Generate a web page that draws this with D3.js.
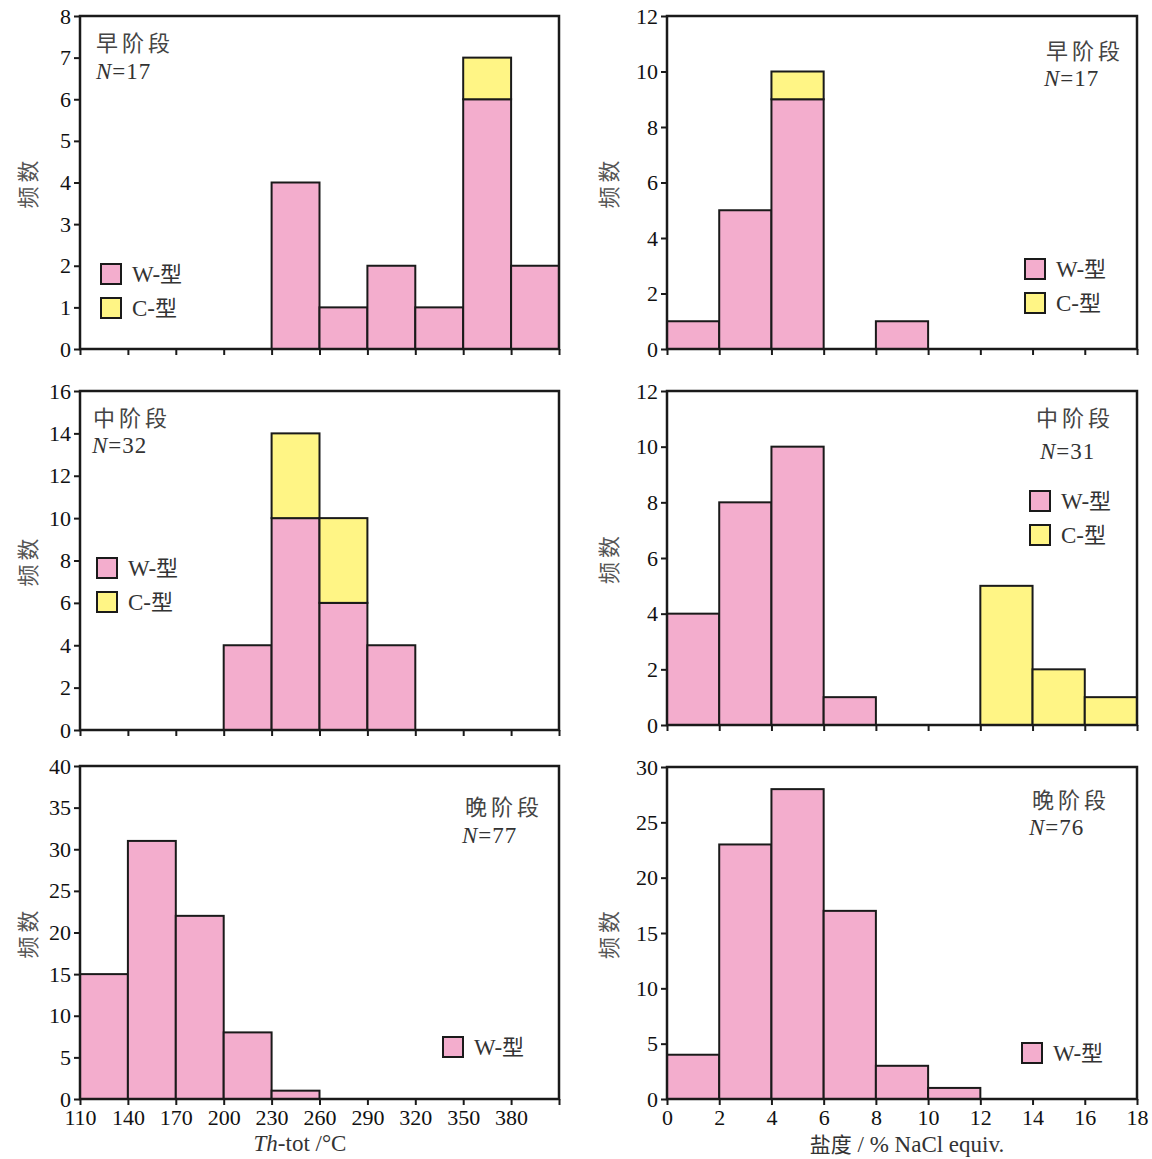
<!DOCTYPE html>
<html>
<head>
<meta charset="utf-8">
<script src="https://cdn.jsdelivr.net/npm/d3@7"></script>
<style>
  html, body { margin: 0; padding: 0; background: #fff; }
  svg { display: block; }
</style>
</head>
<body>
<svg id="chart" width="1152" height="1159"></svg>
<script>
// Bin edges
const thEdges = [110, 140, 170, 200, 230, 260, 290, 320, 350, 380, 410];
const salEdges = [0, 2, 4, 6, 8, 10, 12, 14, 16, 18];

// Tick labels
const thTickLabels = [110, 140, 170, 200, 230, 260, 290, 320, 350, 380];
const salTickLabels = [0, 2, 4, 6, 8, 10, 12, 14, 16, 18];

// Homogenisation temperature counts per bin (W-type / C-type)
const earlyThW = [0, 0, 0, 0, 4, 1, 2, 1, 6, 2];
const earlyThC = [0, 0, 0, 0, 0, 0, 0, 0, 1, 0];
const midThW   = [0, 0, 0, 4, 10, 6, 4, 0, 0, 0];
const midThC   = [0, 0, 0, 0, 4, 4, 0, 0, 0, 0];
const lateThW  = [15, 31, 22, 8, 1, 0, 0, 0, 0, 0];

// Salinity counts per bin (W-type / C-type)
const earlySalW = [1, 5, 9, 0, 1, 0, 0, 0, 0];
const earlySalC = [0, 0, 1, 0, 0, 0, 0, 0, 0];
const midSalW   = [4, 8, 10, 1, 0, 0, 0, 0, 0];
const midSalC   = [0, 0, 0, 0, 0, 0, 5, 2, 1];
const lateSalW  = [4, 23, 28, 17, 3, 1, 0, 0, 0];

// Stage names and sample sizes
const stageNames = ["早阶段", "中阶段", "晚阶段"];
const sampleN = { th: [17, 32, 77], sal: [17, 31, 76] };

const PINK = "#f3adcd";
const YELLOW = "#fff585";
const INK = "#1a1a1a";
const SERIF = "Liberation Serif, serif";
const CJK = "Noto Sans CJK SC, sans-serif";

const svg = d3.select("#chart");

// Panel layout: frame box, y range, tick step, label/legend placement
const panels = [
  { edges: thEdges, W: earlyThW, C: earlyThC, stage: 0, n: sampleN.th[0],
    x0: 80, x1: 559, y0: 16, y1: 349, ymax: 8, ystep: 1, showX: false,
    title: { x: 96, y: 51, anchor: "start" }, nLab: { x: 96, y: 79 },
    legend: { x: 101, y: 264, gap: 34, types: ["W", "C"] } },
  { edges: salEdges, W: earlySalW, C: earlySalC, stage: 0, n: sampleN.sal[0],
    x0: 667, x1: 1137, y0: 16, y1: 349, ymax: 12, ystep: 2, showX: false,
    title: { x: 1124, y: 59, anchor: "end" }, nLab: { x: 1044, y: 86 },
    legend: { x: 1025, y: 259, gap: 34, types: ["W", "C"] } },
  { edges: thEdges, W: midThW, C: midThC, stage: 1, n: sampleN.th[1],
    x0: 80, x1: 559, y0: 391, y1: 730, ymax: 16, ystep: 2, showX: false,
    title: { x: 93, y: 426, anchor: "start" }, nLab: { x: 92, y: 453 },
    legend: { x: 97, y: 558, gap: 34, types: ["W", "C"] } },
  { edges: salEdges, W: midSalW, C: midSalC, stage: 1, n: sampleN.sal[1],
    x0: 667, x1: 1137, y0: 391, y1: 725, ymax: 12, ystep: 2, showX: false,
    title: { x: 1114, y: 426, anchor: "end" }, nLab: { x: 1040, y: 459 },
    legend: { x: 1030, y: 491, gap: 34, types: ["W", "C"] } },
  { edges: thEdges, W: lateThW, C: null, stage: 2, n: sampleN.th[2],
    x0: 80, x1: 559, y0: 766, y1: 1099, ymax: 40, ystep: 5, showX: true,
    tickLabels: thTickLabels,
    title: { x: 543, y: 815, anchor: "end" }, nLab: { x: 462, y: 843 },
    legend: { x: 443, y: 1037, gap: 34, types: ["W"] } },
  { edges: salEdges, W: lateSalW, C: null, stage: 2, n: sampleN.sal[2],
    x0: 667, x1: 1137, y0: 767, y1: 1099, ymax: 30, ystep: 5, showX: true,
    tickLabels: salTickLabels,
    title: { x: 1110, y: 808, anchor: "end" }, nLab: { x: 1029, y: 835 },
    legend: { x: 1022, y: 1043, gap: 34, types: ["W"] } }
];

function drawPanel(p) {
  const g = svg.append("g");
  const x = d3.scaleLinear()
    .domain([p.edges[0], p.edges[p.edges.length - 1]])
    .range([p.x0, p.x1]);
  const y = d3.scaleLinear().domain([0, p.ymax]).range([p.y1, p.y0]);

  // Bars: W-type at the bottom, C-type stacked on top
  const bins = p.W.map((w, i) => ({
    lo: p.edges[i], hi: p.edges[i + 1], w: w, c: p.C ? p.C[i] : 0
  }));
  g.selectAll("rect.w").data(bins.filter(d => d.w > 0)).join("rect")
    .attr("class", "w")
    .attr("x", d => x(d.lo)).attr("width", d => x(d.hi) - x(d.lo))
    .attr("y", d => y(d.w)).attr("height", d => y(0) - y(d.w))
    .attr("fill", PINK).attr("stroke", INK).attr("stroke-width", 2);
  g.selectAll("rect.c").data(bins.filter(d => d.c > 0)).join("rect")
    .attr("class", "c")
    .attr("x", d => x(d.lo)).attr("width", d => x(d.hi) - x(d.lo))
    .attr("y", d => y(d.w + d.c)).attr("height", d => y(d.w) - y(d.w + d.c))
    .attr("fill", YELLOW).attr("stroke", INK).attr("stroke-width", 2);

  // Y axis
  const yTicks = d3.range(0, p.ymax + 0.001, p.ystep);
  const yAxis = g.append("g")
    .attr("transform", `translate(${p.x0},0)`)
    .call(d3.axisLeft(y).tickValues(yTicks).tickSize(6).tickSizeOuter(0).tickPadding(3).tickFormat(d3.format("d")));
  yAxis.select(".domain").remove();
  yAxis.selectAll(".tick line").attr("stroke", INK).attr("stroke-width", 2);
  yAxis.selectAll(".tick text")
    .attr("fill", "#111").attr("font-size", 22).attr("font-family", SERIF);

  // X axis
  const xAxis = g.append("g")
    .attr("transform", `translate(0,${p.y1})`)
    .call(d3.axisBottom(x).tickValues(p.edges).tickSize(6).tickSizeOuter(0).tickPadding(4)
      .tickFormat(d => (p.showX && p.tickLabels.includes(d)) ? d : ""));
  xAxis.select(".domain").remove();
  xAxis.selectAll(".tick line").attr("stroke", INK).attr("stroke-width", 2);
  xAxis.selectAll(".tick text")
    .attr("fill", "#111").attr("font-size", 22).attr("font-family", SERIF);

  // Frame
  g.append("rect")
    .attr("x", p.x0).attr("y", p.y0)
    .attr("width", p.x1 - p.x0).attr("height", p.y1 - p.y0)
    .attr("fill", "none").attr("stroke", INK).attr("stroke-width", 2.5);

  // Y axis title
  const yl = p.x0 < 300 ? 26 : 607;
  g.append("text")
    .attr("transform", `translate(${yl},${(p.y0 + p.y1) / 2}) rotate(-90)`)
    .attr("text-anchor", "middle").attr("dominant-baseline", "central")
    .attr("font-family", CJK).attr("font-size", 22)
    .attr("fill", "#555").attr("letter-spacing", 4)
    .text("频数");

  // Stage title and sample size
  g.append("text")
    .attr("x", p.title.x).attr("y", p.title.y).attr("text-anchor", p.title.anchor)
    .attr("font-family", CJK).attr("font-size", 22)
    .attr("fill", "#444").attr("letter-spacing", 4)
    .text(stageNames[p.stage]);
  const nt = g.append("text")
    .attr("x", p.nLab.x).attr("y", p.nLab.y)
    .attr("font-family", SERIF).attr("font-size", 23)
    .attr("fill", "#333").attr("letter-spacing", 1);
  nt.append("tspan").attr("font-style", "italic").text("N");
  nt.append("tspan").text("=" + p.n);

  // Legend
  const lg = g.append("g");
  p.legend.types.forEach((t, i) => {
    const ly = p.legend.y + i * p.legend.gap;
    lg.append("rect")
      .attr("x", p.legend.x).attr("y", ly).attr("width", 20).attr("height", 20)
      .attr("fill", t === "W" ? PINK : YELLOW)
      .attr("stroke", INK).attr("stroke-width", 2);
    const lt = lg.append("text")
      .attr("x", p.legend.x + 31).attr("y", ly + 18)
      .attr("font-size", 23).attr("fill", "#333");
    lt.append("tspan").attr("font-family", SERIF).text(t + "-");
    lt.append("tspan").attr("font-family", CJK).attr("font-size", 22).text("型");
  });
}

panels.forEach(drawPanel);

// Bottom axis titles
const thTitle = svg.append("text")
  .attr("x", 300).attr("y", 1151).attr("text-anchor", "middle")
  .attr("font-family", SERIF).attr("font-size", 23).attr("fill", "#333");
thTitle.append("tspan").attr("font-style", "italic").text("Th");
thTitle.append("tspan").text("-tot /°C");

const salTitle = svg.append("text")
  .attr("x", 907).attr("y", 1152).attr("text-anchor", "middle")
  .attr("font-size", 23).attr("fill", "#333");
salTitle.append("tspan").attr("font-family", CJK).attr("font-size", 21).text("盐度");
salTitle.append("tspan").attr("font-family", SERIF).text(" / % NaCl equiv.");
</script>
</body>
</html>
